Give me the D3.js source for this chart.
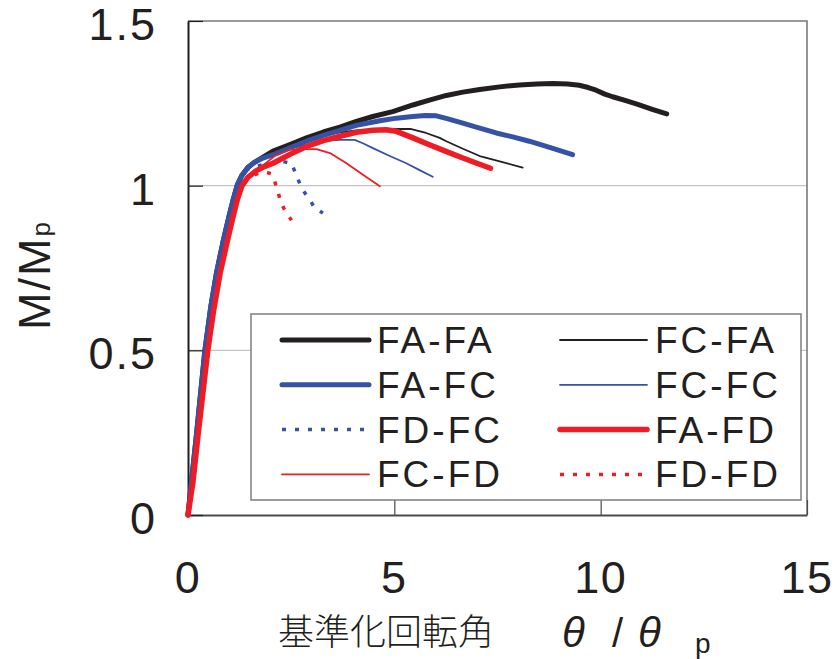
<!DOCTYPE html>
<html>
<head>
<meta charset="utf-8">
<script src="https://cdn.jsdelivr.net/npm/d3@7"></script>
<style>
  html, body { margin: 0; padding: 0; background: #fff; }
  svg { display: block; }
  text { font-family: "Liberation Sans", Arial, "Noto Sans CJK JP", sans-serif; fill: #231f20; }
</style>
</head>
<body>
<figure id="chart" style="margin:0"></figure>
<script>
// data: [theta/theta_p, M/Mp]
const FA_FA = [[0,0],[0.1,0.12],[0.21,0.25],[0.41,0.5],[0.55,0.63],[0.69,0.735],[0.85,0.83],[1.0,0.91],[1.1,0.96],[1.19,1.0],[1.3,1.03],[1.45,1.055],[1.6,1.07],[1.8,1.085],[2.06,1.105],[2.47,1.125],[2.87,1.145],[3.28,1.163],[3.68,1.178],[4.08,1.195],[4.48,1.21],[4.96,1.225],[5.45,1.245],[5.85,1.26],[6.26,1.274],[6.66,1.284],[7.07,1.292],[7.55,1.3],[8.03,1.306],[8.45,1.309],[8.84,1.31],[9.2,1.309],[9.48,1.305],[9.7,1.298],[9.89,1.29],[10.1,1.278],[10.29,1.27],[10.61,1.258],[10.9,1.247],[11.25,1.232],[11.6,1.218]];
const FC_FA = [[0,0],[0.1,0.12],[0.21,0.25],[0.41,0.5],[0.55,0.63],[0.69,0.735],[0.85,0.83],[1.0,0.91],[1.1,0.96],[1.19,1.0],[1.3,1.03],[1.45,1.055],[1.6,1.07],[1.8,1.085],[2.06,1.1],[2.47,1.12],[2.87,1.14],[3.28,1.153],[3.68,1.162],[4.08,1.168],[4.65,1.17],[5.0,1.172],[5.41,1.172],[5.77,1.16],[6.1,1.145],[6.26,1.135],[6.66,1.112],[7.07,1.09],[7.6,1.072],[8.11,1.055]];
const FA_FC = [[0,0],[0.1,0.12],[0.21,0.25],[0.41,0.5],[0.55,0.63],[0.69,0.735],[0.85,0.83],[1.0,0.91],[1.1,0.96],[1.19,1.0],[1.3,1.03],[1.45,1.055],[1.6,1.07],[1.8,1.083],[2.06,1.094],[2.47,1.115],[2.87,1.135],[3.28,1.153],[3.68,1.168],[4.08,1.183],[4.65,1.197],[5.05,1.205],[5.45,1.21],[5.75,1.213],[6.02,1.212],[6.3,1.203],[6.66,1.19],[7.07,1.175],[7.47,1.16],[7.87,1.148],[8.27,1.135],[8.8,1.115],[9.32,1.094]];
const FC_FC = [[0,0],[0.1,0.12],[0.21,0.25],[0.41,0.5],[0.55,0.63],[0.69,0.735],[0.85,0.83],[1.0,0.91],[1.1,0.96],[1.19,1.0],[1.3,1.03],[1.45,1.055],[1.6,1.07],[1.8,1.083],[2.06,1.095],[2.47,1.113],[2.87,1.124],[3.36,1.137],[3.7,1.139],[4.04,1.139],[4.25,1.128],[4.48,1.114],[4.89,1.09],[5.29,1.068],[5.6,1.048],[5.93,1.027]];
const FD_FC = [[0,0],[0.1,0.12],[0.21,0.25],[0.41,0.5],[0.55,0.63],[0.69,0.735],[0.85,0.83],[1.0,0.91],[1.1,0.96],[1.19,1.0],[1.3,1.03],[1.45,1.05],[1.7,1.06],[1.98,1.068],[2.27,1.074],[2.51,1.068],[2.61,1.036],[2.71,1.006],[2.83,0.978],[2.95,0.958],[3.07,0.932],[3.27,0.917]];
const FA_FD = [[0,0],[0.12,0.1],[0.25,0.25],[0.48,0.5],[0.62,0.62],[0.78,0.735],[0.95,0.83],[1.1,0.91],[1.2,0.96],[1.31,1.0],[1.45,1.025],[1.65,1.045],[1.85,1.058],[2.06,1.068],[2.47,1.095],[2.87,1.119],[3.28,1.137],[3.68,1.15],[4.08,1.162],[4.48,1.168],[4.8,1.17],[5.05,1.165],[5.45,1.145],[5.85,1.124],[6.25,1.104],[6.66,1.084],[7.0,1.068],[7.33,1.053]];
const FC_FD = [[0,0],[0.12,0.1],[0.25,0.25],[0.48,0.5],[0.62,0.62],[0.78,0.735],[0.95,0.83],[1.1,0.91],[1.2,0.96],[1.31,1.0],[1.45,1.025],[1.65,1.045],[1.9,1.07],[2.1,1.09],[2.47,1.109],[2.8,1.111],[3.11,1.111],[3.44,1.099],[3.84,1.068],[4.24,1.033],[4.65,0.998]];
const FD_FD = [[0,0],[0.12,0.1],[0.25,0.25],[0.48,0.5],[0.62,0.62],[0.78,0.735],[0.95,0.83],[1.1,0.91],[1.2,0.96],[1.31,1.0],[1.45,1.02],[1.65,1.035],[1.86,1.042],[2.02,1.036],[2.1,1.013],[2.19,0.978],[2.24,0.95],[2.35,0.925],[2.47,0.902],[2.51,0.895]];

const seriesNames = ["FA-FA", "FC-FA", "FA-FC", "FC-FC", "FD-FC", "FA-FD", "FC-FD", "FD-FD"];
const seriesData = [FA_FA, FC_FA, FA_FC, FC_FC, FD_FC, FA_FD, FC_FD, FD_FD];
// legend is laid out in two columns, read row by row
const legendOrder = ["FA-FA", "FC-FA", "FA-FC", "FC-FC", "FD-FC", "FA-FD", "FC-FD", "FD-FD"];
const xTicks = [0, 5, 10, 15];
const yTicks = [0, 0.5, 1, 1.5];
const yTickLabels = ["0", "0.5", "1", "1.5"];

const black = "#231f20", blue = "#3552a5", red = "#ee1c25";
const styles = {
  "FA-FA": { color: black, width: 5 },
  "FC-FA": { color: black, width: 1.8 },
  "FA-FC": { color: blue, width: 5 },
  "FC-FC": { color: blue, width: 1.8 },
  "FD-FC": { color: blue, width: 3.5, dash: "4,9" },
  "FA-FD": { color: red, width: 5.5 },
  "FC-FD": { color: red, width: 1.8 },
  "FD-FD": { color: red, width: 3.5, dash: "4,9" }
};

const W = 840, H = 659;
const margin = { left: 188, top: 21, right: 33, bottom: 144 };
const width = W - margin.left - margin.right;
const height = H - margin.top - margin.bottom;

const svg = d3.select("#chart").append("svg")
  .attr("width", W).attr("height", H);

const g = svg.append("g")
  .attr("transform", "translate(" + margin.left + "," + margin.top + ")");

const x = d3.scaleLinear().domain([0, 15]).range([0, width]);
const y = d3.scaleLinear().domain([0, 1.5]).range([height, 0]);

// gridlines
g.append("g")
  .selectAll("line")
  .data([0.5, 1])
  .enter().append("line")
  .attr("x1", 0).attr("x2", width)
  .attr("y1", d => y(d)).attr("y2", d => y(d))
  .attr("stroke", "#c4c4c4").attr("stroke-width", 1.2);

// frame top / right
g.append("path")
  .attr("d", "M0," + y(1.5) + "H" + width + "V" + height)
  .attr("fill", "none").attr("stroke", "#7a7a7a").attr("stroke-width", 1.6);

// axes with inward ticks
const xAxis = g.append("g")
  .attr("transform", "translate(0," + height + ")")
  .call(d3.axisBottom(x).tickValues(xTicks).tickSizeInner(-15).tickSizeOuter(0).tickFormat(""));
xAxis.select(".domain").attr("stroke", "#4a4a4a").attr("stroke-width", 2);
xAxis.selectAll(".tick line").attr("stroke", "#4a4a4a").attr("stroke-width", 1.2);

const yAxis = g.append("g")
  .call(d3.axisLeft(y).tickValues(yTicks).tickSizeInner(-15).tickSizeOuter(0).tickFormat(""));
yAxis.select(".domain").attr("stroke", black).attr("stroke-width", 2);
yAxis.selectAll(".tick line").attr("stroke", black).attr("stroke-width", 1.2);

// tick labels
g.append("g").selectAll("text")
  .data(xTicks)
  .enter().append("text")
  .attr("x", d => x(d))
  .attr("y", height + 78)
  .attr("text-anchor", "middle")
  .style("font-size", "45px")
  .style("letter-spacing", "1.5px")
  .text(d => d);

g.append("g").selectAll("text")
  .data(yTicks)
  .enter().append("text")
  .attr("x", -31)
  .attr("y", d => y(d) + 19)
  .attr("text-anchor", "end")
  .style("font-size", "45px")
  .style("letter-spacing", "2px")
  .text((d, i) => yTickLabels[i]);

// curves
const line = d3.line().x(d => x(d[0])).y(d => y(d[1]));
g.append("g").selectAll("path")
  .data(seriesNames)
  .enter().append("path")
  .attr("d", (d, i) => line(seriesData[i]))
  .attr("fill", "none")
  .attr("stroke", d => styles[d].color)
  .attr("stroke-width", d => styles[d].width)
  .attr("stroke-dasharray", d => styles[d].dash || null)
  .attr("stroke-linejoin", "round")
  .attr("stroke-linecap", d => styles[d].dash ? "butt" : "round");

// legend
const legend = svg.append("g").attr("transform", "translate(251,314)");
legend.append("rect")
  .attr("width", 550).attr("height", 186)
  .attr("fill", "#fff").attr("stroke", "#858585").attr("stroke-width", 1.6);

const items = legend.selectAll("g.item")
  .data(legendOrder)
  .enter().append("g")
  .attr("class", "item")
  .attr("transform", (d, i) => "translate(" + (i % 2 ? 309 : 31) + "," + (26 + Math.floor(i / 2) * 44.8) + ")");

items.append("line")
  .attr("x1", 0).attr("x2", 87)
  .attr("stroke", d => styles[d].color)
  .attr("stroke-width", d => styles[d].width)
  .attr("stroke-dasharray", d => styles[d].dash || null)
  .attr("stroke-linecap", d => styles[d].dash ? "butt" : "round");

items.append("text")
  .attr("x", 95)
  .attr("y", 13)
  .style("font-size", "37px")
  .style("letter-spacing", "3px")
  .text(d => d);

// axis titles
const yTitle = svg.append("text")
  .attr("transform", "translate(50,275) rotate(-90)")
  .attr("text-anchor", "middle")
  .style("font-size", "45px")
  .style("letter-spacing", "2px");
yTitle.append("tspan").text("M/M");
yTitle.append("tspan").style("font-size", "26px").text("p");

const xTitle = svg.append("text")
  .attr("x", 278)
  .attr("y", 645)
  .style("font-size", "36px");
xTitle.append("tspan").style("font-family", "'Noto Sans CJK JP', sans-serif").style("font-weight", 300).text("基準化回転角");
xTitle.append("tspan").attr("x", 562).attr("y", 647).style("font-style", "italic").style("font-size", "42px").text("θ");
xTitle.append("tspan").attr("x", 612).attr("y", 647).style("font-size", "40px").text("/");
xTitle.append("tspan").attr("x", 638).attr("y", 647).style("font-style", "italic").style("font-size", "42px").text("θ");
xTitle.append("tspan").attr("x", 695).attr("y", 653).style("font-size", "28px").text("p");
</script>
</body>
</html>
